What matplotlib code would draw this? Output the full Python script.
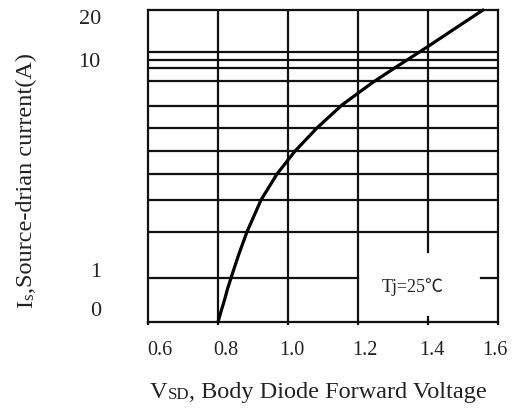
import numpy as np
import matplotlib
matplotlib.use("Agg")
import matplotlib.pyplot as plt
import matplotlib.transforms as mtransforms

# body diode forward characteristic, Tj = 25 C
vsd = [0.8, 0.8071, 0.8186, 0.8271, 0.8371, 0.8591, 0.8829, 0.9229, 0.9686,
       1.02, 1.0829, 1.1543, 1.24, 1.30, 1.34, 1.3686, 1.40, 1.4629, 1.5571]
i_s = [0, 0.2, 0.5, 0.75, 1.0, 1.28, 1.63, 2.28, 3.0,
       3.82, 4.88, 6.22, 7.85, 9.09, 10.0, 10.93, 12.06, 14.78, 20.0]

x_ticks = [0.6, 0.8, 1.0, 1.2, 1.4, 1.6]
x_ticklabels = ["0.6", "0.8", "1.0", "1.2", "1.4", "1.6"]
y_ticks = [0, 1, 10, 20]
y_ticklabels = ["0", "1", "10", "20"]

# the datasheet axis: linear below 1 A, log from 1 to 10 A, stretched log above
H = 312.0

def amps_to_pos(i):
    i = np.asarray(i, dtype=float)
    with np.errstate(divide="ignore", invalid="ignore"):
        lo = i * 44
        mid = 44 + 218 * np.log10(np.clip(i, 1, 10))
        hi = 262 + 50 * np.log2(np.maximum(i, 10) / 10)
    return np.where(i < 1, lo, np.where(i < 10, mid, hi))

def pos_to_amps(h):
    h = np.asarray(h, dtype=float)
    lo = h / 44
    mid = 10 ** ((np.clip(h, 44, 262) - 44) / 218)
    hi = 10 * 2 ** ((np.maximum(h, 262) - 262) / 50)
    return np.where(h < 44, lo, np.where(h < 262, mid, hi))

# horizontal rules of the printed grid (height above the bottom edge)
grid_h = [90, 122, 148, 171, 194, 216, 241, 254, 262, 270]

plt.rcParams["font.family"] = ["Liberation Serif", "Noto Sans CJK SC"]
ink = "#111111"
txt = "#222222"

fig = plt.figure(figsize=(5.14, 4.08), dpi=100)
ax = fig.add_axes([148 / 514, 86 / 408, 350 / 514, 312 / 408])
ax.set_yscale("function", functions=(amps_to_pos, pos_to_amps))
ax.set_xlim(0.6, 1.6)
ax.set_ylim(0, 20)

glw = 1.6
for h in grid_h:
    ax.plot([0, 1], [h / H, h / H], transform=ax.transAxes, color=ink, lw=glw)
# the 1 A rule is broken where the temperature note sits
ax.plot([0, 0.6], [44 / H, 44 / H], transform=ax.transAxes, color=ink, lw=glw)
ax.plot([0.951, 1], [44 / H, 44 / H], transform=ax.transAxes, color=ink, lw=glw)
for xv in [0.8, 1.0, 1.2]:
    ax.axvline(xv, color=ink, lw=glw)
ax.plot([1.4, 1.4], [70 / H, 1], transform=ax.get_xaxis_transform(), color=ink, lw=glw)
ax.plot([1.4, 1.4], [0, 0.015], transform=ax.get_xaxis_transform(), color=ink, lw=glw)

ax.plot(vsd, i_s, color="black", lw=2.3, solid_capstyle="round", clip_on=False, zorder=5)

for s in ax.spines.values():
    s.set_color(ink)
    s.set_linewidth(glw)

ax.set_xticks(x_ticks)
ax.set_xticklabels(x_ticklabels, fontsize=14.5, color=txt)
ax.set_yticks(y_ticks)
ax.set_yticklabels(y_ticklabels, fontsize=16, color=txt)
ax.yaxis.set_minor_locator(matplotlib.ticker.NullLocator())
ax.tick_params(axis="x", length=2.5, width=glw, color=ink, pad=11)
ax.tick_params(axis="y", length=0, pad=34)

# nudge the tick labels to where they are printed (pixels)
y_shift = {"0": 13, "1": 8, "10": 0, "20": -7}
x_shift = {"0.6": 12, "0.8": 8, "1.0": 4, "1.2": 7, "1.4": 4, "1.6": -3}
for lab in ax.get_yticklabels():
    dy = y_shift.get(lab.get_text(), 0) / 100
    lab.set_transform(lab.get_transform() + mtransforms.ScaledTranslation(0, dy, fig.dpi_scale_trans))
for lab in ax.get_xticklabels():
    dx = x_shift.get(lab.get_text(), 0) / 100
    lab.set_transform(lab.get_transform() + mtransforms.ScaledTranslation(dx, 0, fig.dpi_scale_trans))

ax.text(0.757, 0.112, "Tj=25℃", transform=ax.transAxes, fontsize=13,
        ha="center", va="center", color=txt)

# x label: V with small SD, then the rest
fs = 17.5
t1 = fig.text(150 / 514, 1 - 398 / 408, "V", fontsize=fs, ha="left", va="baseline", color=txt)
t2 = ax.annotate("SD", xy=(1, 0), xycoords=t1, fontsize=fs * 0.7, ha="left", va="bottom",
                 color=txt, annotation_clip=False)
ax.annotate(", Body Diode Forward Voltage", xy=(1, 0), xycoords=t2, fontsize=fs,
            ha="left", va="bottom", color=txt, annotation_clip=False)

# y label: I with small s, rotated
r1 = fig.text(37 / 514, 1 - 308 / 408, "I", fontsize=fs, rotation=90, ha="right",
              va="bottom", color=txt)
r2 = ax.annotate("s", xy=(1, 1), xycoords=r1, fontsize=fs * 0.7, rotation=90,
                 ha="right", va="bottom", color=txt, annotation_clip=False)
ax.annotate(",Source-drian current(A)", xy=(1, 1), xycoords=r2, fontsize=fs, rotation=90,
            ha="right", va="bottom", color=txt, annotation_clip=False)

fig.savefig("out.png", dpi=100)
